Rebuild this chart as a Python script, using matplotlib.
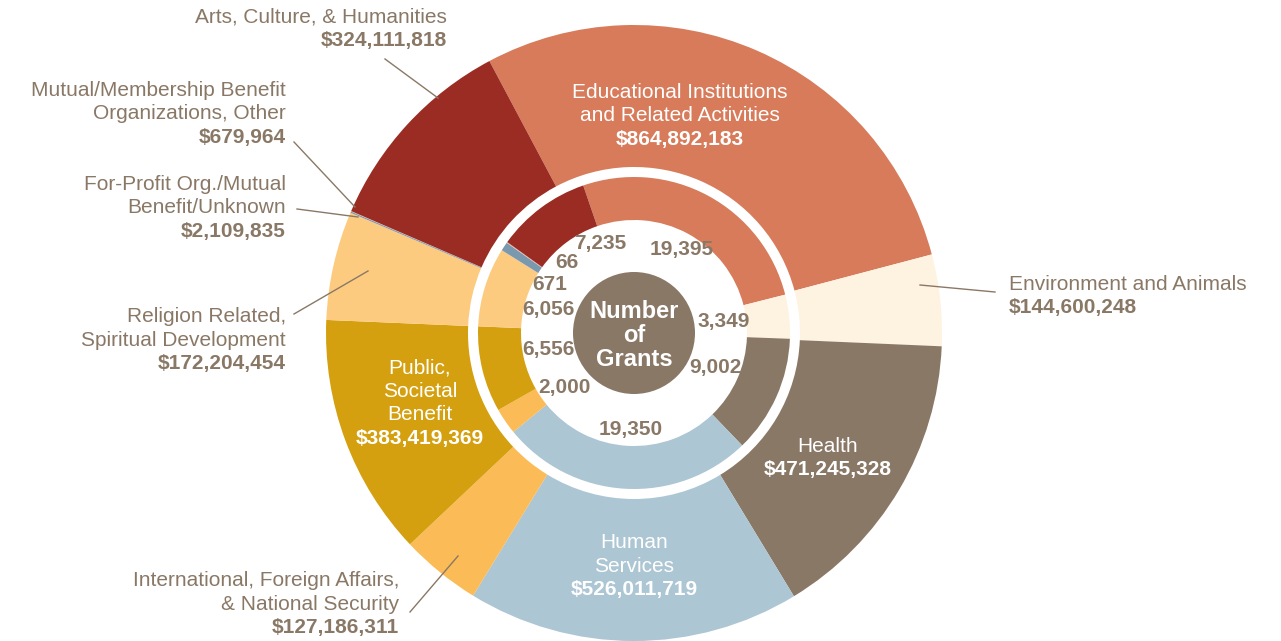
import matplotlib.pyplot as plt

# data (clockwise from Educational)
categories = ['Educational Institutions and Related Activities', 'Environment and Animals', 'Health',
              'Human Services', 'International, Foreign Affairs, & National Security',
              'Public, Societal Benefit', 'Religion Related, Spiritual Development',
              'For-Profit Org./Mutual Benefit/Unknown', 'Mutual/Membership Benefit Organizations, Other',
              'Arts, Culture, & Humanities']
dollars = [864892183, 144600248, 471245328, 526011719, 127186311,
           383419369, 172204454, 2109835, 679964, 324111818]
grants = [19395, 3349, 9002, 19350, 2000, 6556, 6056, 671, 66, 7235]
colors = ['#D77B5B', '#FEF2E1', '#8A7866', '#ADC6D3', '#FBBB57',
          '#D5A010', '#FDCB80', '#7A99AE', '#E8B3A3', '#9B2C23']

txt = '#8A7866'
font = 'Liberation Sans'
fs = 15

fig = plt.figure(figsize=(12.81, 6.41), dpi=100)
ax = fig.add_axes([0, 0, 1, 1])

cx, cy = 634, 333
# y axis is inverted below, so counterclock=True draws clockwise on screen
ax.pie(dollars, colors=colors, radius=308, center=(cx, cy), startangle=-118,
       counterclock=True, wedgeprops={'width': 142, 'linewidth': 0})
ax.pie(grants, colors=colors, radius=156, center=(cx, cy), startangle=-109,
       counterclock=True, wedgeprops={'width': 43, 'linewidth': 0})
ax.add_patch(plt.Circle((cx, cy), 61, color=txt, lw=0))

ax.set_xlim(0, 1281)
ax.set_ylim(641, 0)
ax.set_aspect('equal')
ax.axis('off')


def lines(x, y, rows, ha, color, step=23.5):
    for i, (s, bold) in enumerate(rows):
        ax.text(x, y + i * step, s, ha=ha, va='center', color=color, fontsize=fs,
                fontweight='bold' if bold else 'normal', family=font)


# outside labels
lines(447, 17, [('Arts, Culture, & Humanities', 0), ('$324,111,818', 1)], 'right', txt)
lines(286, 90, [('Mutual/Membership Benefit', 0), ('Organizations, Other', 0), ('$679,964', 1)], 'right', txt)
lines(286, 184, [('For-Profit Org./Mutual', 0), ('Benefit/Unknown', 0), ('$2,109,835', 1)], 'right', txt)
lines(286, 317, [('Religion Related,', 0), ('Spiritual Development', 0), ('$172,204,454', 1)], 'right', txt)
lines(399, 581, [('International, Foreign Affairs,', 0), ('& National Security', 0), ('$127,186,311', 1)], 'right', txt)
lines(1009, 284, [('Environment and Animals', 0), ('$144,600,248', 1)], 'left', txt)

# leader lines
leaders = [((385, 59), (438, 98)), ((294, 142), (355, 207)), ((297, 209), (358, 217)),
           ((294, 314), (368, 271)), ((410, 612), (458, 556)), ((920, 285), (995, 292))]
for (x0, y0), (x1, y1) in leaders:
    ax.plot([x0, x1], [y0, y1], color=txt, lw=1)

# inside labels
lines(680, 92, [('Educational Institutions', 0), ('and Related Activities', 0), ('$864,892,183', 1)], 'center', 'white')
lines(828, 446, [('Health', 0), ('$471,245,328', 1)], 'center', 'white')
lines(634, 543, [('Human', 0), ('Services', 0), ('$526,011,719', 1)], 'center', 'white')
lines(420, 368, [('Public,', 0), ('Societal', 0), ('Benefit', 0), ('$383,419,369', 1)], 'center', 'white')

# grant counts
count_pos = [(682, 249), (724, 322), (715, 368), (631, 429), (564, 388),
             (548, 350), (548, 309), (550, 284), (567, 262), (600, 243)]
for (x, y), g in zip(count_pos, grants):
    ax.text(x, y, f'{g:,}', ha='center', va='center', color=txt, fontsize=fs,
            fontweight='bold', family=font)

for i, s in enumerate(['Number', 'of', 'Grants']):
    ax.text(cx, 312 + i * 24, s, ha='center', va='center', color='white', fontsize=17,
            fontweight='bold', family=font)

fig.savefig('out.png', dpi=100, facecolor='white')
